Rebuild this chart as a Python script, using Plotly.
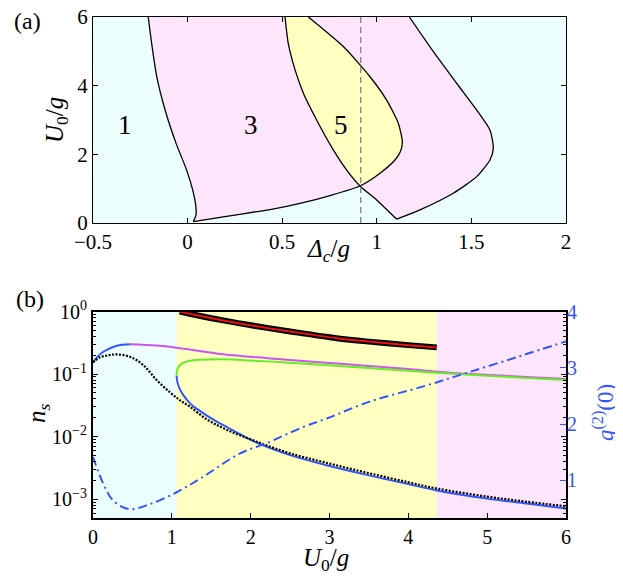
'''Phase diagram (a) and steady-state photon numbers (b)'''
import plotly.graph_objects as go

# ---- panel (a): boundaries in the (Delta_c/g, U0/g) plane ----
left_x = [-0.208, -0.190, -0.163, -0.119, -0.061, -0.005, 0.027, 0.044, 0.044, 0.030]
left_y = [6.0, 5.23, 4.26, 3.29, 2.32, 1.54, 0.96, 0.475, 0.23, 0.04]

lower_x = [0.030, 0.189, 0.365, 0.436, 0.600, 0.753, 0.911]
lower_y = [0.04, 0.18, 0.33, 0.39, 0.58, 0.80, 1.078]

tongue_r_x = [0.911, 1.017, 1.096, 1.125, 1.135, 1.114, 1.052, 0.964, 0.823, 0.638]
tongue_r_y = [1.078, 1.45, 1.835, 2.08, 2.37, 2.90, 3.58, 4.26, 5.14, 6.0]

tongue_l_x = [0.515, 0.532, 0.568, 0.612, 0.682, 0.770, 0.841, 0.911]
tongue_l_y = [6.0, 5.23, 4.46, 3.78, 3.0, 2.13, 1.54, 1.078]

cusp_x = [0.911, 0.999, 1.105]
cusp_y = [1.078, 0.67, 0.11]

outer_x = [1.105, 1.228, 1.404, 1.528, 1.598, 1.616, 1.598, 1.528, 1.422, 1.299, 1.172]
outer_y = [0.11, 0.38, 0.865, 1.35, 1.835, 2.18, 2.71, 3.29, 4.07, 4.99, 6.0]

delta_cut = 0.915
region_labels = ['1', '3', '5']
region_label_x = [-0.331, 0.333, 0.809]
region_label_y = [2.85, 2.85, 2.85]

# ---- panel (b): n_s and g2(0) versus U0/g at the cut ----
phase_edges = [0.0, 1.06, 4.36, 6.0]
phase_colors = ['#ebfdfd', '#ffffc0', '#fde5fb']

top_u = [1.10, 1.30, 1.65, 2.08, 2.50, 3.09, 3.50, 4.00, 4.36]
top_n = [1.0, 0.88, 0.72, 0.58, 0.48, 0.375, 0.33, 0.29, 0.267]

rise_u = [0.0, 0.05, 0.131, 0.30, 0.47]
rise_n = [0.154, 0.185, 0.227, 0.284, 0.30]

mid_u = [0.47, 0.80, 1.06, 1.65, 2.25, 2.50, 3.00, 3.50, 4.00, 4.36, 4.78, 5.50, 6.00]
mid_n = [0.30, 0.285, 0.264, 0.208, 0.178, 0.167, 0.150, 0.135, 0.120, 0.109, 0.100, 0.090, 0.083]

green_u = [1.06, 1.065, 1.08, 1.104, 1.15, 1.23, 1.35, 1.65, 2.0, 2.5, 3.0, 3.5, 4.0, 4.36, 5.0, 6.0]
green_n = [0.094, 0.112, 0.127, 0.139, 0.152, 0.163, 0.169, 0.172, 0.165, 0.152, 0.138, 0.125,
           0.113, 0.105, 0.094, 0.080]

low_u = [1.06, 1.07, 1.10, 1.146, 1.23, 1.315, 1.569, 1.653, 2.076, 2.5, 3.0, 3.5, 4.0, 4.36,
         5.0, 5.5, 6.0]
low_n = [0.094, 0.075, 0.058, 0.046, 0.034, 0.028, 0.0173, 0.0153, 0.0080, 0.00506, 0.00339,
         0.0024, 0.00174, 0.00138, 0.00102, 0.00085, 0.00071]

dot_u = [0.0, 0.089, 0.20, 0.30, 0.469, 0.638, 0.808, 0.977, 1.104, 1.23, 1.44, 1.70, 2.076,
         2.5, 3.0, 3.5, 4.0, 4.36, 5.0, 5.5, 6.0]
dot_n = [0.154, 0.185, 0.200, 0.206, 0.189, 0.139, 0.080, 0.051, 0.038, 0.030, 0.019, 0.0128,
         0.0083, 0.0054, 0.0037, 0.0026, 0.00186, 0.00148, 0.0011, 0.00091, 0.00077]

g2_u = [0.0, 0.131, 0.258, 0.461, 0.723, 1.061, 1.357, 1.865, 2.2, 2.668, 2.965, 3.51, 4.19,
        4.74, 5.4, 6.0]
g2_v = [1.417, 0.94, 0.64, 0.49, 0.58, 0.79, 1.03, 1.48, 1.66, 1.95, 2.10, 2.40, 2.67, 2.91,
        3.2, 3.47]

n_ticks = [1e-3, 1e-2, 1e-1, 1.0]
n_tick_text = ['10<sup>−3</sup>', '10<sup>−2</sup>', '10<sup>−1</sup>', '10<sup>0</sup>']
n_minor = [m * 10.0 ** e for e in range(-4, 0) for m in range(2, 10)]

FONT = 'Liberation Serif'
BLUE = '#3355ff'
CYAN, YELLOW, PINK = phase_colors[0], phase_colors[1], phase_colors[2]

# the page puts the figure 8 px in from the window corner
OFF = 8
W, H = 623 - OFF, 579 - OFF


def px_x(p):
    return (p - OFF) / W


def px_y(p):
    return 1 - (p - OFF) / H


fig = go.Figure()

# panel (a) filled regions
pink_x = left_x + lower_x[1:] + cusp_x[1:] + outer_x[1:]
pink_y = left_y + lower_y[1:] + cusp_y[1:] + outer_y[1:]
fig.add_trace(go.Scatter(x=pink_x, y=pink_y, fill='toself', fillcolor=PINK, mode='none',
                         xaxis='x', yaxis='y', hoverinfo='skip'))
yellow_x = tongue_r_x + tongue_l_x
yellow_y = tongue_r_y + tongue_l_y
fig.add_trace(go.Scatter(x=yellow_x, y=yellow_y, fill='toself', fillcolor=YELLOW, mode='none',
                         xaxis='x', yaxis='y', hoverinfo='skip'))

# panel (a) boundary lines
for bx, by in [(left_x, left_y),
               (lower_x + tongue_r_x[1:], lower_y + tongue_r_y[1:]),
               (tongue_l_x + cusp_x[1:], tongue_l_y + cusp_y[1:]),
               (outer_x, outer_y)]:
    fig.add_trace(go.Scatter(x=bx, y=by, mode='lines', xaxis='x', yaxis='y',
                             line=dict(color='black', width=1.3, shape='spline', smoothing=0.6)))

# panel (b) curves
fig.add_trace(go.Scatter(x=top_u, y=top_n, mode='lines', xaxis='x2', yaxis='y2',
                         line=dict(color='black', width=6, shape='spline')))
fig.add_trace(go.Scatter(x=top_u, y=top_n, mode='lines', xaxis='x2', yaxis='y2',
                         line=dict(color='#ee1111', width=2, shape='spline')))
fig.add_trace(go.Scatter(x=mid_u, y=mid_n, mode='lines', xaxis='x2', yaxis='y2',
                         line=dict(color='#cc55ee', width=2, shape='spline')))
fig.add_trace(go.Scatter(x=green_u, y=green_n, mode='lines', xaxis='x2', yaxis='y2',
                         line=dict(color='#66ee22', width=2, shape='spline')))
fig.add_trace(go.Scatter(x=rise_u, y=rise_n, mode='lines', xaxis='x2', yaxis='y2',
                         line=dict(color=BLUE, width=2, shape='spline')))
fig.add_trace(go.Scatter(x=low_u, y=low_n, mode='lines', xaxis='x2', yaxis='y2',
                         line=dict(color=BLUE, width=2, shape='spline')))
fig.add_trace(go.Scatter(x=dot_u, y=dot_n, mode='lines', xaxis='x2', yaxis='y2',
                         line=dict(color='black', width=2.2, dash='2px,1.5px', shape='spline')))
fig.add_trace(go.Scatter(x=g2_u, y=g2_v, mode='lines', xaxis='x2', yaxis='y3',
                         line=dict(color=BLUE, width=2, dash='9px,4px,2px,4px', shape='spline')))

# background phases in (b)
for i in range(1, len(phase_colors)):
    fig.add_shape(type='rect', xref='x2', yref='y2 domain', x0=phase_edges[i],
                  x1=phase_edges[i + 1], y0=0, y1=1, fillcolor=phase_colors[i],
                  line_width=0, layer='below')

fig.add_shape(type='line', xref='x', yref='y domain', x0=delta_cut, x1=delta_cut, y0=0, y1=1,
              line=dict(color='#808080', width=1.3, dash='6px,4px'))

tick_a = dict(ticks='inside', ticklen=5, tickcolor='black', showline=True, linecolor='black',
              linewidth=1.3, mirror='allticks', showgrid=False, zeroline=False, automargin=False,
              ticklabeloverflow='allow', tickfont=dict(family=FONT, size=21, color='black'))

x_dom = [px_x(93), px_x(566)]
fig.update_layout(
    width=W, height=H, showlegend=False,
    margin=dict(l=0, r=0, t=0, b=0, pad=0, autoexpand=False),
    paper_bgcolor='white', plot_bgcolor=CYAN,
    xaxis=dict(domain=x_dom, anchor='y', range=[-0.5, 2], dtick=0.5, **tick_a),
    yaxis=dict(domain=[px_y(223), px_y(17)], anchor='x', range=[0, 6], dtick=2, **tick_a),
    xaxis2=dict(domain=x_dom, anchor='y2', range=[0, 6], dtick=1, ticks='inside',
                ticklen=5, tickcolor='black', showline=True, linecolor='black', linewidth=2,
                mirror=True, showgrid=False, zeroline=False, automargin=False,
                ticklabeloverflow='allow',
                tickfont=dict(family=FONT, size=20, color='black')),
    yaxis2=dict(domain=[px_y(518), px_y(311.5)], anchor='x2', type='log', range=[-3.301, 0],
                tickmode='array', tickvals=n_ticks, ticktext=n_tick_text, ticks='inside',
                ticklen=5, tickcolor='black', showline=True, linecolor='black', linewidth=2,
                mirror='allticks', showgrid=False, zeroline=False, automargin=False,
                ticklabeloverflow='allow',
                minor=dict(tickmode='array', tickvals=n_minor, ticks='inside', ticklen=3,
                           tickcolor='black', showgrid=False),
                tickfont=dict(family=FONT, size=20, color='black')),
    yaxis3=dict(overlaying='y2', anchor='x2', side='right', range=[0.333, 4],
                tickvals=[1, 2, 3, 4], ticks='inside', ticklen=6, tickcolor=BLUE,
                showline=False, showgrid=False, zeroline=False, automargin=False,
                ticklabeloverflow='allow',
                tickfont=dict(family=FONT, size=20, color=BLUE)),
)

ann = [
    dict(text='(a)', x=27, y=21, size=24, color='black', angle=0),
    dict(text='(b)', x=30, y=299, size=24, color='black', angle=0),
    dict(text='<i>U</i><sub>0</sub>/<i>g</i>', x=56, y=120, size=25, color='black', angle=-90),
    dict(text='<i>Δ</i><sub><i>c</i></sub>/<i>g</i>', x=328, y=250, size=25, color='black',
         angle=0),
    dict(text='<i>n</i><sub><i>s</i></sub>', x=38, y=413, size=25, color='black', angle=-90),
    dict(text='<i>U</i><sub>0</sub>/<i>g</i>', x=326, y=559, size=25, color='black', angle=0),
    dict(text='<i>g</i><sup>(2)</sup>(0)', x=603, y=413, size=23, color=BLUE, angle=-90),
]
for a in ann:
    fig.add_annotation(text=a['text'], xref='paper', yref='paper', x=px_x(a['x']),
                       y=px_y(a['y']), xanchor='center', yanchor='middle',
                       textangle=a['angle'], showarrow=False,
                       font=dict(family=FONT, size=a['size'], color=a['color']))

for lab, lx, ly in zip(region_labels, region_label_x, region_label_y):
    fig.add_annotation(text=lab, x=lx, y=ly, xref='x', yref='y', showarrow=False,
                       font=dict(family=FONT, size=27, color='black'))

fig.write_html('out.html')
